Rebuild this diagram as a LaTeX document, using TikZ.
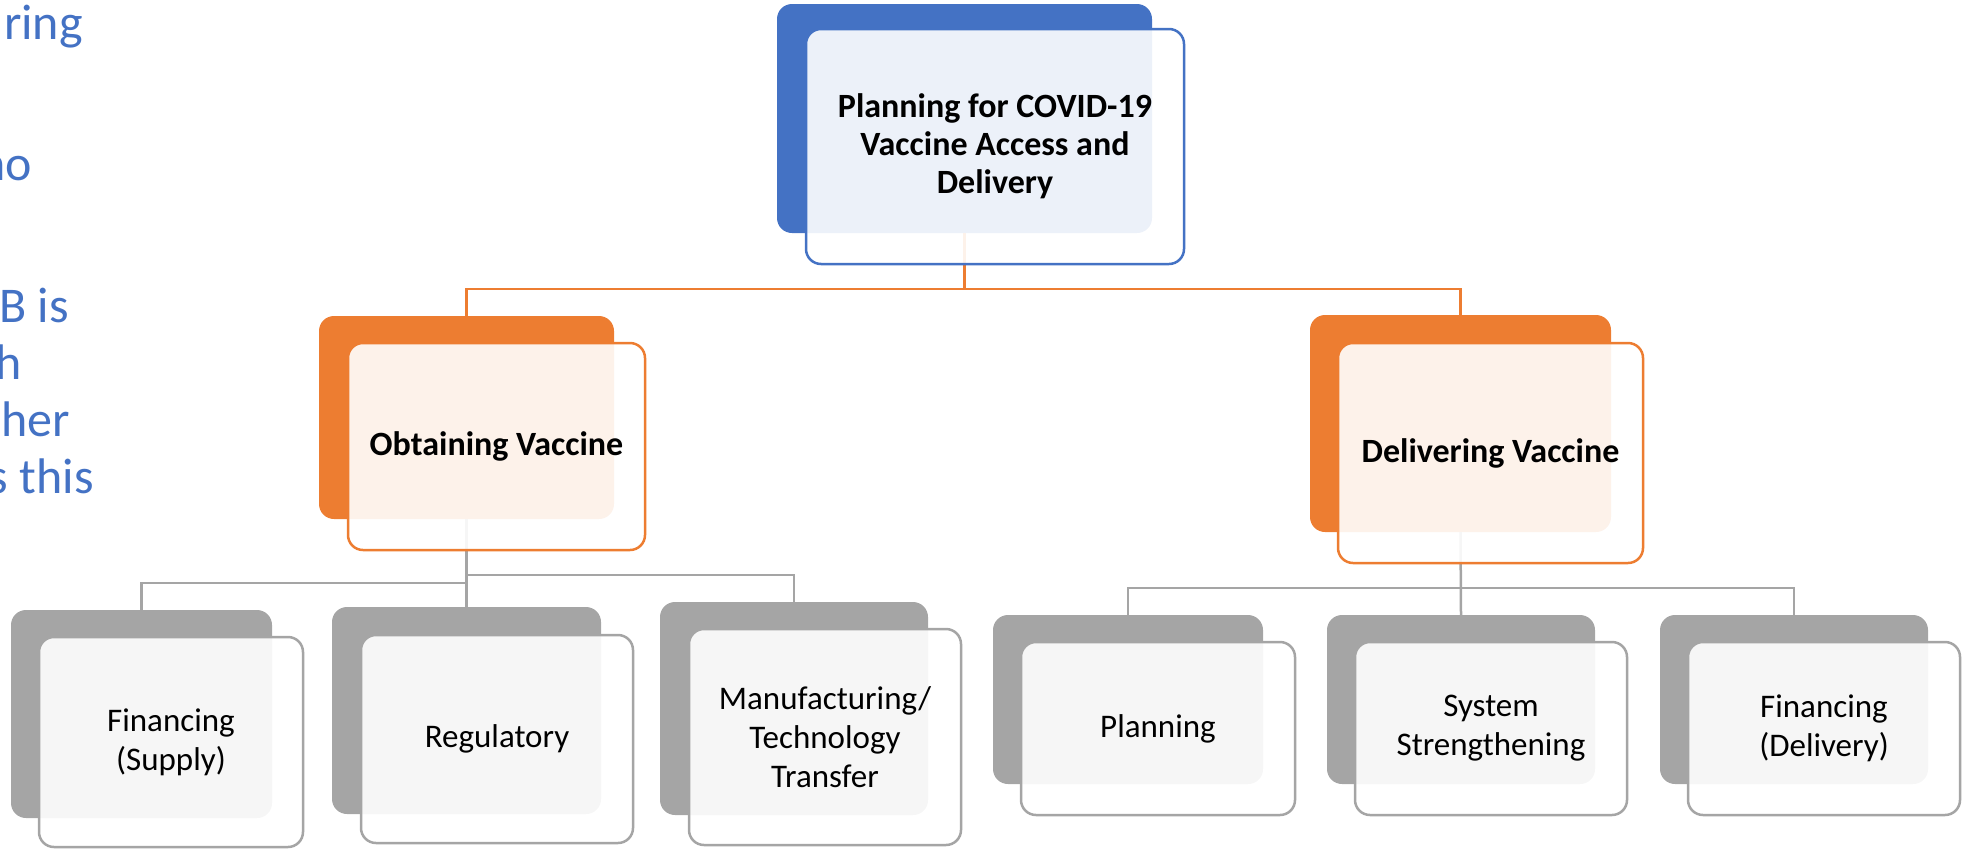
\documentclass[tikz,border=0pt]{standalone}
\usepackage{fontspec}
\setmainfont{Carlito}
\definecolor{accblue}{HTML}{4472C4}
\definecolor{accorange}{HTML}{ED7D31}
\definecolor{accgrey}{HTML}{A5A5A5}
\tikzset{
	backbox/.style={fill=#1,rounded corners=15pt,inner sep=0pt},
	frontbox/.style={draw=#1,fill=white,fill opacity=0.9,text opacity=1,line width=2.5pt,rounded corners=15pt,inner sep=0pt,align=center},
	link/.style={draw=#1,line width=2.5pt},
	head/.style={font=\bfseries\fontsize{34}{38}\selectfont},
	leaf/.style={font=\fontsize{33}{39}\selectfont},
	side/.style={text=accblue,font=\fontsize{50}{57}\selectfont,inner sep=0pt,anchor=base east},
}

\begin{document}
\begin{tikzpicture}[x=1pt,y=-1pt]
	\useasboundingbox (0,0) rectangle (1972,857);
	\clip (0,0) rectangle (1972,857);
	\node[side] (s1) at (83,39) {ring};
	\node[side] (s2) at (32,180) {ho};
	\node[side] (s3) at (69,322) {B is};
	\node[side] (s4) at (22,379) {h};
	\node[side] (s5) at (70,436) {her};
	\node[side] (s6) at (94,493) {s this};
	\node[backbox=accblue,minimum width=375pt,minimum height=229pt] (b-top) at (964.5,118.5) {};
	\node[backbox=accorange,minimum width=295pt,minimum height=203pt] (b-obt) at (466.5,417.5) {};
	\node[backbox=accorange,minimum width=301pt,minimum height=217pt] (b-del) at (1460.5,423.5) {};
	\node[backbox=accgrey,minimum width=261pt,minimum height=208pt] (b-fin1) at (141.5,714) {};
	\node[backbox=accgrey,minimum width=269pt,minimum height=207pt] (b-reg) at (466.5,710.5) {};
	\node[backbox=accgrey,minimum width=268pt,minimum height=213pt] (b-man) at (794,708.5) {};
	\node[backbox=accgrey,minimum width=270pt,minimum height=169pt] (b-plan) at (1128,699.5) {};
	\node[backbox=accgrey,minimum width=268pt,minimum height=169pt] (b-sys) at (1461,699.5) {};
	\node[backbox=accgrey,minimum width=268pt,minimum height=169pt] (b-fin2) at (1794,699.5) {};
	\coordinate (j-top) at (964.5,289);
	\coordinate (j-obt1) at (466.5,583);
	\coordinate (j-obt2) at (466.5,575);
	\coordinate (j-del) at (1460.5,588);
	\draw[link=accorange] (b-top.south) -- (j-top) -| (b-obt.north);
	\draw[link=accorange] (j-top) -| (b-del.north);
	\draw[link=accgrey] (b-obt.south) -- (b-reg.north);
	\draw[link=accgrey] (j-obt1) -| (b-fin1.north);
	\draw[link=accgrey] (j-obt2) -| (b-man.north);
	\draw[link=accgrey] (b-del.south) -- (b-sys.north);
	\draw[link=accgrey] (j-del) -| (b-plan.north);
	\draw[link=accgrey] (j-del) -| (b-fin2.north);
	\node[frontbox=accblue,head,minimum width=378pt,minimum height=235pt] (top) at (995,146.5) {Planning for COVID-19\\Vaccine Access and\\Delivery};
	\node[frontbox=accorange,head,minimum width=297pt,minimum height=207pt] (obt) at (496.5,446.5) {Obtaining Vaccine};
	\node[frontbox=accorange,head,minimum width=305pt,minimum height=220pt] (del) at (1490.5,453) {Delivering Vaccine};
	\node[frontbox=accgrey,leaf,minimum width=264pt,minimum height=210pt] (fin1) at (171,742) {Financing\\(Supply)};
	\node[frontbox=accgrey,leaf,minimum width=272pt,minimum height=208pt] (reg) at (497,739) {Regulatory};
	\node[frontbox=accgrey,leaf,minimum width=272pt,minimum height=216pt] (man) at (825,737) {Manufacturing/\\Technology\\Transfer};
	\node[frontbox=accgrey,leaf,minimum width=274pt,minimum height=173pt] (plan) at (1158,728.5) {Planning};
	\node[frontbox=accgrey,leaf,minimum width=272pt,minimum height=173pt] (sys) at (1491,728.5) {System\\Strengthening};
	\node[frontbox=accgrey,leaf,minimum width=272pt,minimum height=173pt] (fin2) at (1824,728.5) {Financing\\(Delivery)};
\end{tikzpicture}
\end{document}
